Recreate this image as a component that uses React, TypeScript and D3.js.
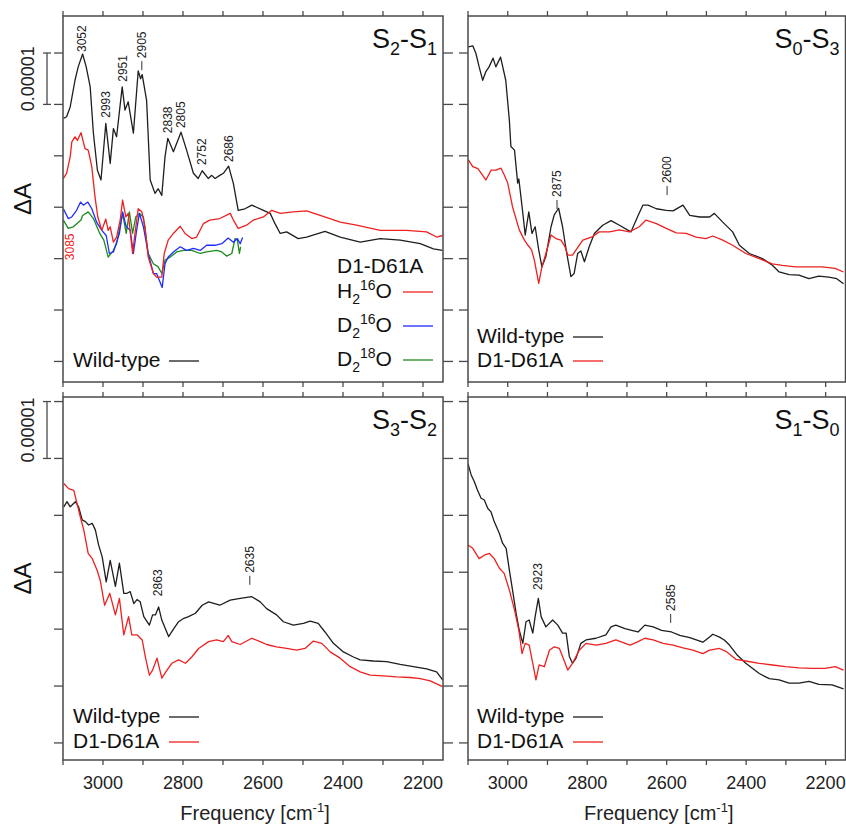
import React from "react";
import * as d3 from "d3";

type P = [number, number];

// ---------- DATA (frequency cm-1, ΔA in units of 1e-5) ----------
const FREQ_TICKS = [3100, 3000, 2900, 2800, 2700, 2600, 2500, 2400, 2300, 2200];
const FREQ_LABELS = [3000, 2800, 2600, 2400, 2200];
const Y_TICKS = [0, 1, 2, 3, 4, 5, 6];

const s2s1_wt: P[] = [[3099,4.73],[3091,4.76],[3082,4.95],[3070,5.47],[3062,5.73],[3051,5.98],[3042,5.73],[3032,5.34],[3024,4.44],[3014,3.72],[3005,3.53],[2993,4.63],[2982,3.85],[2974,4.53],[2966,4.37],[2952,5.34],[2945,4.89],[2937,5.05],[2924,4.44],[2912,5.65],[2906,5.5],[2902,5.58],[2891,5.08],[2882,3.53],[2870,3.27],[2862,3.36],[2853,3.23],[2845,3.98],[2838,4.34],[2824,4.08],[2805,4.46],[2791,4.11],[2774,3.66],[2762,3.56],[2752,3.71],[2737,3.56],[2728,3.62],[2720,3.56],[2708,3.62],[2699,3.66],[2686,3.8],[2674,3.46],[2662,2.94],[2645,2.97],[2628,3.04],[2599,2.94],[2582,2.88],[2570,2.68],[2557,2.49],[2541,2.52],[2512,2.39],[2491,2.42],[2445,2.53],[2407,2.42],[2357,2.32],[2307,2.39],[2257,2.36],[2207,2.29],[2174,2.19],[2151,2.16]];
const s2s1_h2o16: P[] = [[3099,3.56],[3091,3.66],[3082,3.98],[3078,4.27],[3070,4.37],[3064,4.3],[3055,4.45],[3045,4.14],[3037,4.11],[3028,3.79],[3020,3.2],[3013,2.81],[3003,2.55],[2993,2.77],[2987,2.55],[2982,2.62],[2974,2.32],[2966,2.42],[2957,2.75],[2951,3.14],[2943,2.81],[2937,2.88],[2926,2.1],[2920,2.49],[2912,2.97],[2903,2.91],[2895,2.62],[2887,2.03],[2874,1.71],[2866,1.64],[2853,1.64],[2847,2.1],[2837,2.36],[2824,2.49],[2807,2.63],[2795,2.49],[2778,2.39],[2766,2.42],[2749,2.68],[2733,2.75],[2708,2.78],[2682,2.88],[2674,2.75],[2662,2.59],[2641,2.65],[2624,2.75],[2599,2.81],[2578,2.94],[2557,2.88],[2524,2.91],[2491,2.93],[2457,2.84],[2407,2.71],[2366,2.65],[2307,2.55],[2241,2.55],[2191,2.52],[2166,2.42],[2151,2.45]];
const s2s1_d2o16: P[] = [[3099,2.97],[3087,2.78],[3078,2.81],[3066,2.94],[3056,3.1],[3049,3.04],[3038,3.1],[3028,2.97],[3016,2.71],[3003,2.55],[2992,2.45],[2984,2.1],[2974,2.13],[2966,2.32],[2959,2.49],[2951,2.91],[2942,2.62],[2932,2.55],[2924,2.1],[2916,2.55],[2909,2.88],[2899,2.62],[2887,2.1],[2874,1.71],[2866,1.71],[2852,1.44],[2845,1.9],[2837,2.03],[2824,2.13],[2807,2.23],[2791,2.16],[2774,2.2],[2757,2.16],[2741,2.26],[2720,2.26],[2703,2.29],[2687,2.4],[2674,2.32],[2664,2.39],[2657,2.29],[2651,2.41]];
const s2s1_d2o18: P[] = [[3099,2.75],[3087,2.59],[3074,2.62],[3055,2.75],[3051,2.84],[3037,2.91],[3024,2.78],[3008,2.49],[2998,2.36],[2987,2.03],[2974,2.16],[2966,2.29],[2951,2.88],[2942,2.49],[2934,2.91],[2926,2.49],[2918,2.81],[2909,2.88],[2899,2.81],[2887,2.1],[2874,1.9],[2862,1.84],[2853,1.71],[2845,1.97],[2832,2.03],[2816,2.13],[2799,2.16],[2778,2.16],[2757,2.1],[2741,2.13],[2716,2.16],[2703,2.13],[2691,2.05],[2678,2.1],[2670,2.39],[2664,2.36],[2659,2.1],[2656,2.23]];

const s0s3_wt: P[] = [[3099,6.12],[3088,6.14],[3080,5.99],[3072,5.73],[3063,5.47],[3055,5.64],[3047,5.73],[3037,5.9],[3030,5.73],[3018,5.92],[3005,5.47],[2996,4.7],[2992,4.18],[2983,4.11],[2975,3.47],[2972,3.55],[2962,2.88],[2956,2.46],[2947,2.91],[2939,2.49],[2931,2.62],[2922,2.17],[2914,1.84],[2904,2.04],[2891,2.62],[2883,2.85],[2872,2.98],[2862,2.62],[2853,2.17],[2841,1.65],[2833,1.71],[2824,2.1],[2816,2.15],[2807,1.94],[2795,2.23],[2782,2.49],[2761,2.65],[2740,2.74],[2719,2.65],[2690,2.52],[2673,2.82],[2660,3.04],[2647,3.04],[2626,2.97],[2601,2.94],[2584,2.93],[2559,3.04],[2542,2.84],[2517,2.81],[2492,2.81],[2480,2.88],[2459,2.71],[2434,2.52],[2417,2.26],[2392,2.1],[2359,2.0],[2334,1.87],[2317,1.74],[2292,1.69],[2267,1.68],[2242,1.61],[2217,1.66],[2192,1.64],[2172,1.61],[2155,1.51]];
const s0s3_d61a: P[] = [[3099,3.92],[3088,3.79],[3075,3.75],[3055,3.53],[3042,3.72],[3030,3.72],[3017,3.76],[3009,3.63],[3000,3.47],[2988,3.01],[2971,2.56],[2958,2.36],[2949,2.26],[2940,2.17],[2933,1.97],[2922,1.52],[2914,1.84],[2904,2.1],[2891,2.46],[2879,2.39],[2866,2.36],[2857,2.25],[2849,2.07],[2837,2.07],[2828,2.17],[2811,2.36],[2786,2.43],[2770,2.52],[2744,2.52],[2719,2.56],[2694,2.52],[2669,2.62],[2652,2.75],[2626,2.68],[2601,2.59],[2576,2.5],[2551,2.49],[2526,2.42],[2501,2.39],[2484,2.44],[2459,2.36],[2434,2.26],[2401,2.1],[2367,2.0],[2334,1.9],[2309,1.87],[2276,1.84],[2242,1.84],[2209,1.84],[2176,1.81],[2155,1.74]];

const s3s2_wt: P[] = [[3098,4.15],[3090,4.24],[3082,4.15],[3069,4.24],[3061,4.15],[3052,3.92],[3044,3.89],[3036,3.83],[3027,3.86],[3019,3.74],[3011,3.48],[3002,3.27],[2992,2.83],[2982,3.21],[2969,2.75],[2959,3.16],[2948,2.63],[2940,2.63],[2932,2.66],[2923,2.45],[2915,2.52],[2907,2.48],[2898,2.22],[2884,2.07],[2876,2.25],[2869,2.25],[2861,2.39],[2853,2.16],[2836,1.87],[2823,2.01],[2811,2.13],[2798,2.19],[2786,2.22],[2769,2.28],[2752,2.42],[2736,2.48],[2708,2.42],[2682,2.51],[2657,2.54],[2628,2.57],[2607,2.48],[2591,2.36],[2566,2.25],[2549,2.13],[2524,2.07],[2499,2.1],[2482,2.14],[2462,2.1],[2445,1.95],[2424,1.75],[2399,1.6],[2374,1.51],[2357,1.46],[2324,1.44],[2291,1.43],[2257,1.38],[2224,1.34],[2191,1.3],[2166,1.25],[2151,1.11]];
const s3s2_d61a: P[] = [[3098,4.56],[3086,4.47],[3073,4.44],[3065,4.21],[3057,3.98],[3048,3.74],[3037,3.33],[3027,3.24],[3015,3.04],[3007,2.86],[2996,2.42],[2983,2.63],[2969,2.25],[2959,2.54],[2948,1.9],[2936,2.22],[2928,1.9],[2915,1.9],[2902,1.81],[2894,1.51],[2884,1.19],[2876,1.28],[2865,1.49],[2853,1.14],[2840,1.28],[2828,1.4],[2811,1.46],[2794,1.4],[2778,1.51],[2761,1.66],[2736,1.78],[2716,1.81],[2699,1.78],[2687,1.89],[2678,1.78],[2657,1.73],[2628,1.84],[2607,1.78],[2591,1.73],[2566,1.69],[2541,1.66],[2516,1.63],[2495,1.66],[2474,1.79],[2453,1.75],[2432,1.6],[2407,1.49],[2382,1.34],[2357,1.25],[2332,1.19],[2299,1.18],[2266,1.16],[2232,1.15],[2207,1.13],[2182,1.09],[2151,0.99]];

const s1s0_wt: P[] = [[3100,4.91],[3092,4.71],[3084,4.59],[3076,4.44],[3067,4.3],[3059,4.27],[3050,4.12],[3042,4.06],[3034,3.89],[3021,3.68],[3013,3.51],[3004,3.42],[2996,3.04],[2988,2.69],[2979,2.28],[2971,1.98],[2962,1.75],[2954,2.13],[2946,2.16],[2937,1.93],[2931,2.22],[2923,2.54],[2916,2.22],[2904,2.04],[2887,2.16],[2874,2.07],[2862,1.93],[2853,1.93],[2845,1.52],[2837,1.4],[2828,1.49],[2816,1.75],[2803,1.81],[2778,1.84],[2753,1.9],[2740,2.04],[2728,2.07],[2705,2.01],[2688,1.98],[2672,1.95],[2655,2.07],[2634,2.04],[2613,1.98],[2588,1.95],[2567,1.89],[2542,1.85],[2509,1.77],[2492,1.86],[2484,1.91],[2467,1.86],[2455,1.81],[2442,1.72],[2422,1.54],[2401,1.4],[2367,1.22],[2342,1.13],[2317,1.11],[2292,1.05],[2267,1.05],[2242,1.08],[2217,1.03],[2184,1.02],[2155,0.95]];
const s1s0_d61a: P[] = [[3100,3.48],[3088,3.42],[3072,3.24],[3059,3.3],[3046,3.33],[3034,3.24],[3021,3.07],[3009,2.98],[2996,2.69],[2983,2.34],[2972,1.98],[2964,1.57],[2956,1.75],[2946,1.72],[2937,1.4],[2929,1.11],[2921,1.37],[2908,1.34],[2895,1.63],[2883,1.69],[2870,1.66],[2862,1.52],[2849,1.28],[2837,1.4],[2820,1.63],[2803,1.75],[2778,1.72],[2753,1.75],[2728,1.81],[2713,1.77],[2692,1.72],[2672,1.78],[2655,1.84],[2634,1.81],[2609,1.75],[2584,1.72],[2559,1.67],[2534,1.63],[2509,1.57],[2492,1.63],[2467,1.66],[2451,1.61],[2426,1.47],[2401,1.44],[2367,1.4],[2334,1.37],[2301,1.34],[2267,1.32],[2234,1.31],[2201,1.31],[2176,1.34],[2155,1.28]];

type Lab = { t: string; f: number; v: number; tick?: boolean; red?: boolean };
const s2s1_labels: Lab[] = [
  { t: "3052", f: 3052, v: 6.02 }, { t: "2993", f: 2993, v: 4.74 }, { t: "2951", f: 2951, v: 5.44 },
  { t: "2905", f: 2903, v: 5.9, tick: true }, { t: "2838", f: 2838, v: 4.44 }, { t: "2805", f: 2805, v: 4.54 },
  { t: "2752", f: 2752, v: 3.82 }, { t: "2686", f: 2686, v: 3.88 }, { t: "3085", f: 3083, v: 1.97, red: true },
];
const s0s3_labels: Lab[] = [{ t: "2875", f: 2876, v: 3.2, tick: true }, { t: "2600", f: 2599, v: 3.47, tick: true }];
const s3s2_labels: Lab[] = [{ t: "2863", f: 2862, v: 2.58 }, { t: "2635", f: 2633, v: 2.99, tick: true }];
const s1s0_labels: Lab[] = [{ t: "2923", f: 2924, v: 2.69 }, { t: "2585", f: 2590, v: 2.32, tick: true }];

const BLACK = "#1e1e1e", RED = "#ee2020", BLUE = "#1f2cff", GREEN = "#1d8a1d";
const FONT = "Liberation Sans, Arial, Helvetica, sans-serif";

type Series = { data: P[]; color: string };
type Panel = {
  x0: number; x1: number; y0: number; y1: number; yDom: [number, number];
  series: Series[]; labels: Lab[]; sub: [string, string];
  xLabels: boolean; left: boolean;
};

const TOP = { y0: 16, y1: 382, yDom: [-0.4, 6.72] as [number, number] };
const BOT = { y0: 397, y1: 760, yDom: [-0.3, 6.08] as [number, number] };
const LX = { x0: 63, x1: 443 };
const RX = { x0: 468, x1: 845.5 };

const panels: Panel[] = [
  { ...LX, ...TOP, series: [{ data: s2s1_wt, color: BLACK }, { data: s2s1_d2o18, color: GREEN }, { data: s2s1_d2o16, color: BLUE }, { data: s2s1_h2o16, color: RED }], labels: s2s1_labels, sub: ["2", "1"], xLabels: false, left: true },
  { ...RX, ...TOP, series: [{ data: s0s3_wt, color: BLACK }, { data: s0s3_d61a, color: RED }], labels: s0s3_labels, sub: ["0", "3"], xLabels: false, left: false },
  { ...LX, ...BOT, series: [{ data: s3s2_wt, color: BLACK }, { data: s3s2_d61a, color: RED }], labels: s3s2_labels, sub: ["3", "2"], xLabels: true, left: true },
  { ...RX, ...BOT, series: [{ data: s1s0_wt, color: BLACK }, { data: s1s0_d61a, color: RED }], labels: s1s0_labels, sub: ["1", "0"], xLabels: true, left: false },
];

const FRAME = "#4a4a4a";

function PanelView({ p, idx }: { p: Panel; idx: number }) {
  const xs = d3.scaleLinear().domain([3100, 2150]).range([p.x0, p.x1]);
  const ys = d3.scaleLinear().domain(p.yDom).range([p.y1, p.y0]);
  const line = d3.line<P>().x((d) => xs(d[0])).y((d) => ys(d[1]));
  const cid = `clip${idx}`;
  return (
    <g>
      <defs>
        <clipPath id={cid}><rect x={p.x0} y={p.y0} width={p.x1 - p.x0} height={p.y1 - p.y0} /></clipPath>
      </defs>
      {FREQ_TICKS.map((f) => (
        <g key={"xt" + f} stroke={FRAME} strokeWidth={1.3}>
          <line x1={xs(f)} x2={xs(f)} y1={p.y0} y2={p.y0 - 5} />
          <line x1={xs(f)} x2={xs(f)} y1={p.y1} y2={p.y1 + 5} />
        </g>
      ))}
      {Y_TICKS.map((v) => (
        <g key={"yt" + v} stroke={FRAME} strokeWidth={1.3}>
          <line x1={p.x0} x2={p.x0 - 9} y1={ys(v)} y2={ys(v)} />
          <line x1={p.x1} x2={p.x1 + 10} y1={ys(v)} y2={ys(v)} />
        </g>
      ))}
      {p.xLabels && FREQ_LABELS.map((f) => (
        <text key={"xl" + f} x={xs(f)} y={789} fontSize={18} textAnchor="middle" fill="#222" fontFamily={FONT}>{f}</text>
      ))}
      <g clipPath={`url(#${cid})`}>
        {p.series.map((s, i) => (
          <path key={i} d={line(s.data) || ""} fill="none" stroke={s.color} strokeWidth={1.3} strokeLinejoin="round" />
        ))}
      </g>
      <rect x={p.x0} y={p.y0} width={p.x1 - p.x0} height={p.y1 - p.y0} fill="none" stroke={FRAME} strokeWidth={1.5} />
      {p.labels.map((l) => {
        const x = xs(l.f);
        const y = ys(l.v);
        return (
          <g key={l.t}>
            <text transform={`translate(${x},${y}) rotate(-90)`} fontSize={12} fill={l.red ? RED : "#222"} dominantBaseline="central" fontFamily={FONT}>{l.t}</text>
            {l.tick && <line x1={x} x2={x} y1={y + 3} y2={y + 12} stroke="#333" strokeWidth={1} />}
          </g>
        );
      })}
      <text x={p.x1 - 6} y={p.y0 + 32} fontSize={27} textAnchor="end" fill="#111" fontFamily={FONT}>
        S<tspan fontSize={18} dy={7}>{p.sub[0]}</tspan><tspan dy={-7}>-S</tspan><tspan fontSize={18} dy={7}>{p.sub[1]}</tspan>
      </text>
      {p.left && (
        <g>
          <text transform={`translate(22,${(p.y0 + p.y1) / 2}) rotate(-90)`} fontSize={24} textAnchor="middle" dominantBaseline="central" fill="#111" fontFamily={FONT}>ΔA</text>
          <g stroke={FRAME} strokeWidth={1.3}>
            <line x1={47} x2={47} y1={ys(6)} y2={ys(5)} />
            <line x1={43} x2={51} y1={ys(6)} y2={ys(6)} />
            <line x1={43} x2={51} y1={ys(5)} y2={ys(5)} />
          </g>
          <text transform={`translate(28,${(ys(6) + ys(5)) / 2}) rotate(-90)`} fontSize={18} textAnchor="middle" dominantBaseline="central" fill="#222" fontFamily={FONT}>0.00001</text>
        </g>
      )}
      {p.xLabels && (
        <text x={(p.x0 + p.x1) / 2 + 2} y={820} fontSize={20} textAnchor="middle" fill="#222" fontFamily={FONT}>
          Frequency [cm<tspan fontSize={13} dy={-8}>-1</tspan><tspan dy={8}>]</tspan>
        </text>
      )}
    </g>
  );
}

function LegendItem({ x, y, lx, color, children }: { x: number; y: number; lx: number; color: string; children: React.ReactNode }) {
  return (
    <g>
      <text x={x} y={y} fontSize={21} fill="#111" fontFamily={FONT}>{children}</text>
      <line x1={lx} x2={lx + 30} y1={y - 6} y2={y - 6} stroke={color} strokeWidth={1.3} />
    </g>
  );
}

export default function App() {
  return (
    <svg width={846} height={826} style={{ position: "absolute", left: 0, top: 0, background: "#fff" }}>
      <rect x={0} y={0} width={846} height={826} fill="#fff" />
      {panels.map((p, i) => <PanelView key={i} p={p} idx={i} />)}
      <LegendItem x={73} y={367} lx={169} color={BLACK}>Wild-type</LegendItem>
      <text x={337} y={273} fontSize={21} fill="#111" fontFamily={FONT}>D1-D61A</text>
      <LegendItem x={337} y={298} lx={403} color={RED}>H<tspan fontSize={14} dy={6}>2</tspan><tspan fontSize={14} dy={-14}>16</tspan><tspan dy={8}>O</tspan></LegendItem>
      <LegendItem x={337} y={332} lx={403} color={BLUE}>D<tspan fontSize={14} dy={6}>2</tspan><tspan fontSize={14} dy={-14}>16</tspan><tspan dy={8}>O</tspan></LegendItem>
      <LegendItem x={337} y={366} lx={403} color={GREEN}>D<tspan fontSize={14} dy={6}>2</tspan><tspan fontSize={14} dy={-14}>18</tspan><tspan dy={8}>O</tspan></LegendItem>
      <LegendItem x={477} y={343} lx={573} color={BLACK}>Wild-type</LegendItem>
      <LegendItem x={477} y={367} lx={573} color={RED}>D1-D61A</LegendItem>
      <LegendItem x={73} y={723} lx={169} color={BLACK}>Wild-type</LegendItem>
      <LegendItem x={73} y={748} lx={169} color={RED}>D1-D61A</LegendItem>
      <LegendItem x={477} y={723} lx={573} color={BLACK}>Wild-type</LegendItem>
      <LegendItem x={477} y={748} lx={573} color={RED}>D1-D61A</LegendItem>
    </svg>
  );
}
